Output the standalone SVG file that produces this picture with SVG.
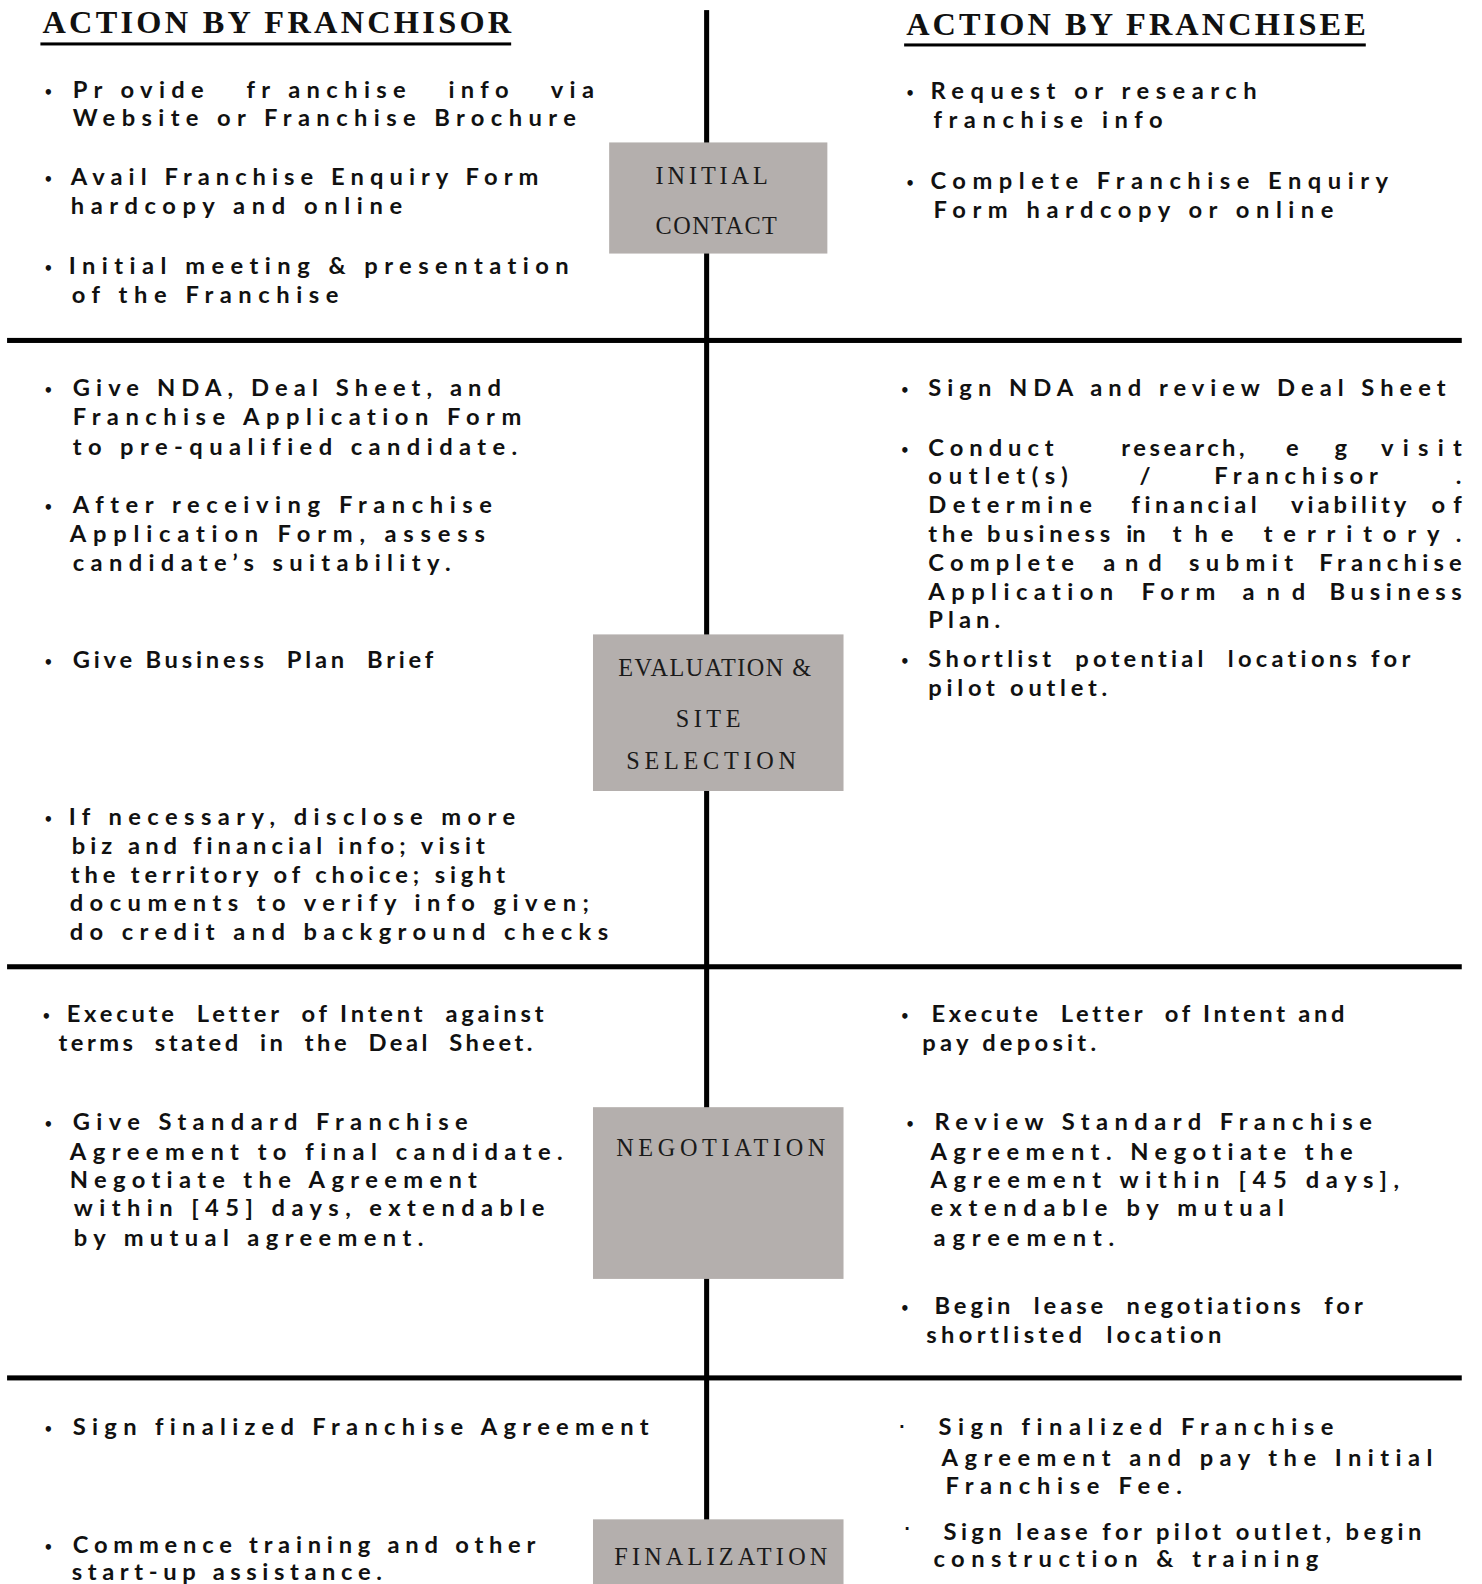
<svg xmlns="http://www.w3.org/2000/svg" width="1482" height="1584" viewBox="0 0 1482 1584">
<style>
.t{font-family:"Lato","Open Sans","DejaVu Sans",sans-serif;font-weight:bold;font-size:23.5px;fill:#111;white-space:pre;font-variant-ligatures:none;font-feature-settings:"liga" 0,"dlig" 0}
.b{font-family:"DejaVu Sans",sans-serif;font-weight:bold;font-size:15px;fill:#111}
.h{font-family:"Liberation Serif",serif;font-weight:bold;font-size:32px;fill:#111}
.bx{font-family:"Liberation Serif",serif;font-size:24px;fill:#1a1a1a}
.box{fill:#b4afad}
.ln{fill:#000}
</style>
<rect width="1482" height="1584" fill="#fff"/>
<g transform="scale(1.0102)">
<g id="connectors">
<rect class="ln" x="697" y="10" width="5" height="1560"/>
<rect class="ln" x="7" y="334.5" width="1440" height="5"/>
<rect class="ln" x="7" y="954.5" width="1440" height="5"/>
<rect class="ln" x="7" y="1361.5" width="1440" height="5"/>
</g>
<g id="header-franchisor">
<text class="h" x="42" y="33" textLength="464" lengthAdjust="spacing">ACTION BY FRANCHISOR</text>
<rect class="ln" x="40" y="42" width="466" height="3"/>
</g>
<g id="header-franchisee">
<text class="h" x="897" y="35" textLength="455" lengthAdjust="spacing">ACTION BY FRANCHISEE</text>
<rect class="ln" x="895" y="43" width="457" height="3"/>
</g>
<g id="node-initial-contact">
<rect class="box" x="603" y="141" width="216" height="110"/>
<text class="bx" x="649" y="182" textLength="111" lengthAdjust="spacing">INITIAL</text>
<text class="bx" x="649" y="232" textLength="120" lengthAdjust="spacing">CONTACT</text>
</g>
<g id="node-evaluation">
<rect class="box" x="587" y="628" width="248" height="155"/>
<text class="bx" x="612" y="669" textLength="191" lengthAdjust="spacing">EVALUATION &amp;</text>
<text class="bx" x="669" y="720" textLength="64" lengthAdjust="spacing">SITE</text>
<text class="bx" x="620" y="761" textLength="168" lengthAdjust="spacing">SELECTION</text>
</g>
<g id="node-negotiation">
<rect class="box" x="587" y="1096" width="248" height="170"/>
<text class="bx" x="610" y="1144" textLength="207" lengthAdjust="spacing">NEGOTIATION</text>
</g>
<g id="node-finalization">
<rect class="box" x="587" y="1504" width="248" height="80"/>
<text class="bx" x="608" y="1549" textLength="211" lengthAdjust="spacing">FINALIZATION</text>
</g>
<g id="franchisor-actions">
<text class="b" x="43" y="97">•</text>
<text class="t" x="72" y="97" textLength="516" lengthAdjust="spacing">Pr ovide   fr anchise   info   via</text>
<text class="t" x="72" y="125" textLength="498" lengthAdjust="spacing">Website or Franchise Brochure</text>
<text class="b" x="43" y="183">•</text>
<text class="t" x="70" y="183" textLength="463" lengthAdjust="spacing">Avail Franchise Enquiry Form</text>
<text class="t" x="70" y="212" textLength="328" lengthAdjust="spacing">hardcopy and online</text>
<text class="b" x="43" y="271">•</text>
<text class="t" x="68" y="271" textLength="495" lengthAdjust="spacing">Initial meeting &amp; presentation</text>
<text class="t" x="71" y="300" textLength="264" lengthAdjust="spacing">of the Franchise</text>
<text class="b" x="43" y="392">•</text>
<text class="t" x="72" y="392" textLength="424" lengthAdjust="spacing">Give NDA, Deal Sheet, and</text>
<text class="t" x="72" y="421" textLength="444" lengthAdjust="spacing">Franchise Application Form</text>
<text class="t" x="72" y="450" textLength="440" lengthAdjust="spacing">to pre-qualified candidate.</text>
<text class="b" x="43" y="508">•</text>
<text class="t" x="72" y="508" textLength="415" lengthAdjust="spacing">After receiving Franchise</text>
<text class="t" x="69" y="537" textLength="411" lengthAdjust="spacing">Application Form, assess</text>
<text class="t" x="72" y="565" textLength="374" lengthAdjust="spacing">candidate’s suitability.</text>
<text class="b" x="43" y="661">•</text>
<text class="t" x="72" y="661" textLength="357" lengthAdjust="spacing">Give Business  Plan  Brief</text>
<text class="b" x="43" y="817">•</text>
<text class="t" x="68" y="817" textLength="442" lengthAdjust="spacing">If necessary, disclose more</text>
<text class="t" x="71" y="845" textLength="409" lengthAdjust="spacing">biz and financial info; visit</text>
<text class="t" x="70" y="874" textLength="430" lengthAdjust="spacing">the territory of choice; sight</text>
<text class="t" x="69" y="902" textLength="514" lengthAdjust="spacing">documents to verify info given;</text>
<text class="t" x="69" y="931" textLength="533" lengthAdjust="spacing">do credit and background checks</text>
<text class="b" x="41" y="1012">•</text>
<text class="t" x="66" y="1012" textLength="472" lengthAdjust="spacing">Execute  Letter  of Intent  against</text>
<text class="t" x="58" y="1040" textLength="469" lengthAdjust="spacing">terms  stated  in  the  Deal  Sheet.</text>
<text class="b" x="43" y="1119">•</text>
<text class="t" x="72" y="1119" textLength="391" lengthAdjust="spacing">Give Standard Franchise</text>
<text class="t" x="69" y="1148" textLength="488" lengthAdjust="spacing">Agreement to final candidate.</text>
<text class="t" x="69" y="1176" textLength="403" lengthAdjust="spacing">Negotiate the Agreement</text>
<text class="t" x="73" y="1204" textLength="466" lengthAdjust="spacing">within [45] days, extendable</text>
<text class="t" x="73" y="1233" textLength="346" lengthAdjust="spacing">by mutual agreement.</text>
<text class="b" x="43" y="1421">•</text>
<text class="t" x="72" y="1421" textLength="570" lengthAdjust="spacing">Sign finalized Franchise Agreement</text>
<text class="b" x="43" y="1537">•</text>
<text class="t" x="72" y="1537" textLength="458" lengthAdjust="spacing">Commence training and other</text>
<text class="t" x="71" y="1564" textLength="307" lengthAdjust="spacing">start-up assistance.</text>
</g>
<g id="franchisee-actions">
<text class="b" x="896" y="98">•</text>
<text class="t" x="921" y="98" textLength="323" lengthAdjust="spacing">Request or research</text>
<text class="t" x="924" y="127" textLength="227" lengthAdjust="spacing">franchise info</text>
<text class="b" x="896" y="187">•</text>
<text class="t" x="921" y="187" textLength="453" lengthAdjust="spacing">Complete Franchise Enquiry</text>
<text class="t" x="924" y="216" textLength="396" lengthAdjust="spacing">Form hardcopy or online</text>
<text class="b" x="891" y="392">•</text>
<text class="t" x="919" y="392" textLength="512" lengthAdjust="spacing">Sign NDA and review Deal Sheet</text>
<text class="b" x="891" y="451">•</text>
<text class="t" x="919" y="451" textLength="124" lengthAdjust="spacing">Conduct</text>
<text class="t" x="1110" y="451" textLength="122" lengthAdjust="spacing">research,</text>
<text class="t" x="1273" y="451">e</text>
<text class="t" x="1321" y="451">g</text>
<text class="t" x="1367" y="451" textLength="80" lengthAdjust="spacing">visit</text>
<text class="t" x="919" y="479" textLength="138" lengthAdjust="spacing">outlet(s)</text>
<text class="t" x="1128" y="479">/</text>
<text class="t" x="1202" y="479" textLength="162" lengthAdjust="spacing">Franchisor</text>
<text class="t" x="1441" y="479">.</text>
<text class="t" x="919" y="508" textLength="162" lengthAdjust="spacing">Determine</text>
<text class="t" x="1120" y="508" textLength="124" lengthAdjust="spacing">financial</text>
<text class="t" x="1278" y="508" textLength="114" lengthAdjust="spacing">viability</text>
<text class="t" x="1417" y="508" textLength="30" lengthAdjust="spacing">of</text>
<text class="t" x="919" y="537" textLength="44" lengthAdjust="spacing">the</text>
<text class="t" x="977" y="537" textLength="122" lengthAdjust="spacing">business</text>
<text class="t" x="1115" y="537" textLength="19" lengthAdjust="spacing">in</text>
<text class="t" x="1161" y="537" textLength="60" lengthAdjust="spacing">the</text>
<text class="t" x="1251" y="537" textLength="174" lengthAdjust="spacing">territory</text>
<text class="t" x="1441" y="537">.</text>
<text class="t" x="919" y="565" textLength="144" lengthAdjust="spacing">Complete</text>
<text class="t" x="1092" y="565" textLength="58" lengthAdjust="spacing">and</text>
<text class="t" x="1177" y="565" textLength="103" lengthAdjust="spacing">submit</text>
<text class="t" x="1306" y="565" textLength="141" lengthAdjust="spacing">Franchise</text>
<text class="t" x="919" y="594" textLength="183" lengthAdjust="spacing">Application</text>
<text class="t" x="1130" y="594" textLength="73" lengthAdjust="spacing">Form</text>
<text class="t" x="1230" y="594" textLength="62" lengthAdjust="spacing">and</text>
<text class="t" x="1316" y="594" textLength="131" lengthAdjust="spacing">Business</text>
<text class="t" x="919" y="622" textLength="71" lengthAdjust="spacing">Plan.</text>
<text class="b" x="891" y="660">•</text>
<text class="t" x="919" y="660" textLength="477" lengthAdjust="spacing">Shortlist  potential  locations for</text>
<text class="t" x="919" y="689" textLength="177" lengthAdjust="spacing">pilot outlet.</text>
<text class="b" x="891" y="1012">•</text>
<text class="t" x="922" y="1012" textLength="409" lengthAdjust="spacing">Execute  Letter  of Intent and</text>
<text class="t" x="913" y="1040" textLength="172" lengthAdjust="spacing">pay deposit.</text>
<text class="b" x="896" y="1119">•</text>
<text class="t" x="925" y="1119" textLength="433" lengthAdjust="spacing">Review Standard Franchise</text>
<text class="t" x="921" y="1148" textLength="418" lengthAdjust="spacing">Agreement. Negotiate the</text>
<text class="t" x="921" y="1176" textLength="464" lengthAdjust="spacing">Agreement within [45 days],</text>
<text class="t" x="921" y="1204" textLength="350" lengthAdjust="spacing">extendable by mutual</text>
<text class="t" x="924" y="1233" textLength="179" lengthAdjust="spacing">agreement.</text>
<text class="b" x="891" y="1301">•</text>
<text class="t" x="925" y="1301" textLength="424" lengthAdjust="spacing">Begin  lease  negotiations  for</text>
<text class="t" x="917" y="1329" textLength="292" lengthAdjust="spacing">shortlisted  location</text>
<text class="b" x="890" y="1418">·</text>
<text class="t" x="929" y="1421" textLength="391" lengthAdjust="spacing">Sign finalized Franchise</text>
<text class="t" x="932" y="1451" textLength="486" lengthAdjust="spacing">Agreement and pay the Initial</text>
<text class="t" x="936" y="1479" textLength="234" lengthAdjust="spacing">Franchise Fee.</text>
<text class="b" x="895" y="1519">·</text>
<text class="t" x="934" y="1524" textLength="473" lengthAdjust="spacing">Sign lease for pilot outlet, begin</text>
<text class="t" x="924" y="1551" textLength="381" lengthAdjust="spacing">construction &amp; training</text>
</g>
</g>
</svg>
